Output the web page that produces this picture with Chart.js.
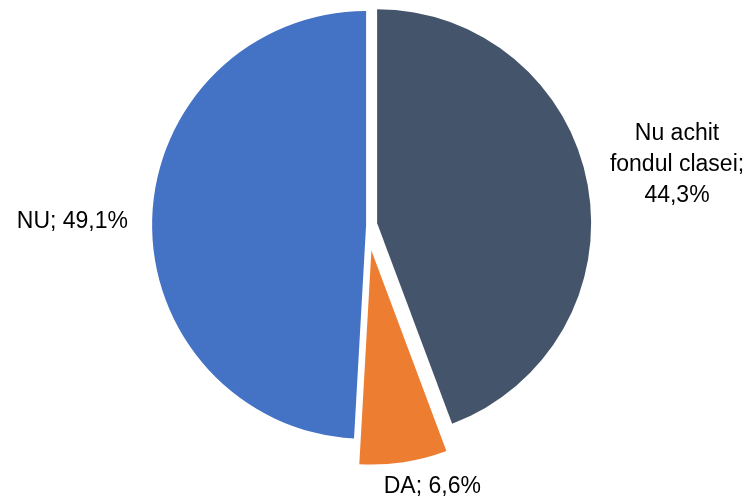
<!DOCTYPE html>
<html>
<head>
<meta charset="utf-8">
<script src="https://cdn.jsdelivr.net/npm/chart.js@4/dist/chart.umd.min.js"></script>
<style>
  html, body { margin: 0; padding: 0; background: #ffffff; }
  #wrap { width: 756px; height: 499px; }
</style>
</head>
<body>
<div id="wrap"><canvas id="c" width="756" height="499"></canvas></div>
<script>
// Data
const categories = ["Nu achit fondul clasei", "DA", "NU"];
const labelLines = [["Nu achit", "fondul clasei;"], ["DA;"], ["NU;"]];
const values = [44.3, 6.6, 49.1];

// Styles
const colors = ["#44546A", "#ED7D31", "#4472C4"];
const sliceOffsets = [9.8, 25.9, 1.4];          // desired explosion in px
const RADIUS = 214;
const labelRadiusFactor = [1.424, 1.117, 1.373];
const labelShiftX = [0, 25, 0];
const labelShiftY = [-4, 0, 5];
const FONT = '23px "Liberation Sans", Arial, sans-serif';
const LINE_H = 31;

function fmt(v) { return v.toFixed(1).replace('.', ',') + '%'; }

// Chart.js draws offset/4, enlarges the radius by offset*fix and trims the
// angles a little; compensate so every slice keeps the same radius and span.
const radiusFix = {
  id: 'radiusFix',
  afterDatasetUpdate(chart, args) {
    const meta = chart.getDatasetMeta(args.index);
    meta.data.forEach((arc, i) => {
      const circ = arc.circumference;
      const fix = 1 - Math.sin(Math.min(Math.PI, circ || 0));
      const ro = sliceOffsets[i] * fix;
      arc.outerRadius = RADIUS - ro;
      const trim = ro / (2 * Math.PI * RADIUS);
      arc.startAngle -= trim;
      arc.endAngle += trim;
    });
  }
};

const labelPlugin = {
  id: 'sliceLabels',
  afterDatasetsDraw(chart) {
    const ctx = chart.ctx;
    const meta = chart.getDatasetMeta(0);
    ctx.save();
    ctx.font = FONT;
    ctx.fillStyle = '#000000';
    ctx.textAlign = 'center';
    ctx.textBaseline = 'middle';
    meta.data.forEach((arc, i) => {
      const mid = (arc.startAngle + arc.endAngle) / 2;
      const d = sliceOffsets[i] + RADIUS * labelRadiusFactor[i];
      const cx = arc.x + Math.cos(mid) * d + labelShiftX[i];
      const cy = arc.y + Math.sin(mid) * d + labelShiftY[i];
      let lines = labelLines[i].slice();
      if (lines.length > 1) {
        lines.push(fmt(values[i]));
      } else {
        lines = [lines[0] + ' ' + fmt(values[i])];
      }
      const startY = cy - (lines.length - 1) * LINE_H / 2;
      lines.forEach((t, j) => ctx.fillText(t, cx, startY + j * LINE_H));
    });
    ctx.restore();
  }
};

new Chart(document.getElementById('c'), {
  type: 'pie',
  data: {
    labels: categories,
    datasets: [{
      data: values,
      backgroundColor: colors,
      borderWidth: 0,
      offset: sliceOffsets.map(o => o * 4)
    }]
  },
  options: {
    responsive: false,
    animation: false,
    radius: RADIUS,
    layout: { padding: { left: 0, right: 21, top: 0, bottom: 49 } },
    plugins: {
      legend: { display: false },
      tooltip: { enabled: false }
    }
  },
  plugins: [radiusFix, labelPlugin]
});
</script>
</body>
</html>
